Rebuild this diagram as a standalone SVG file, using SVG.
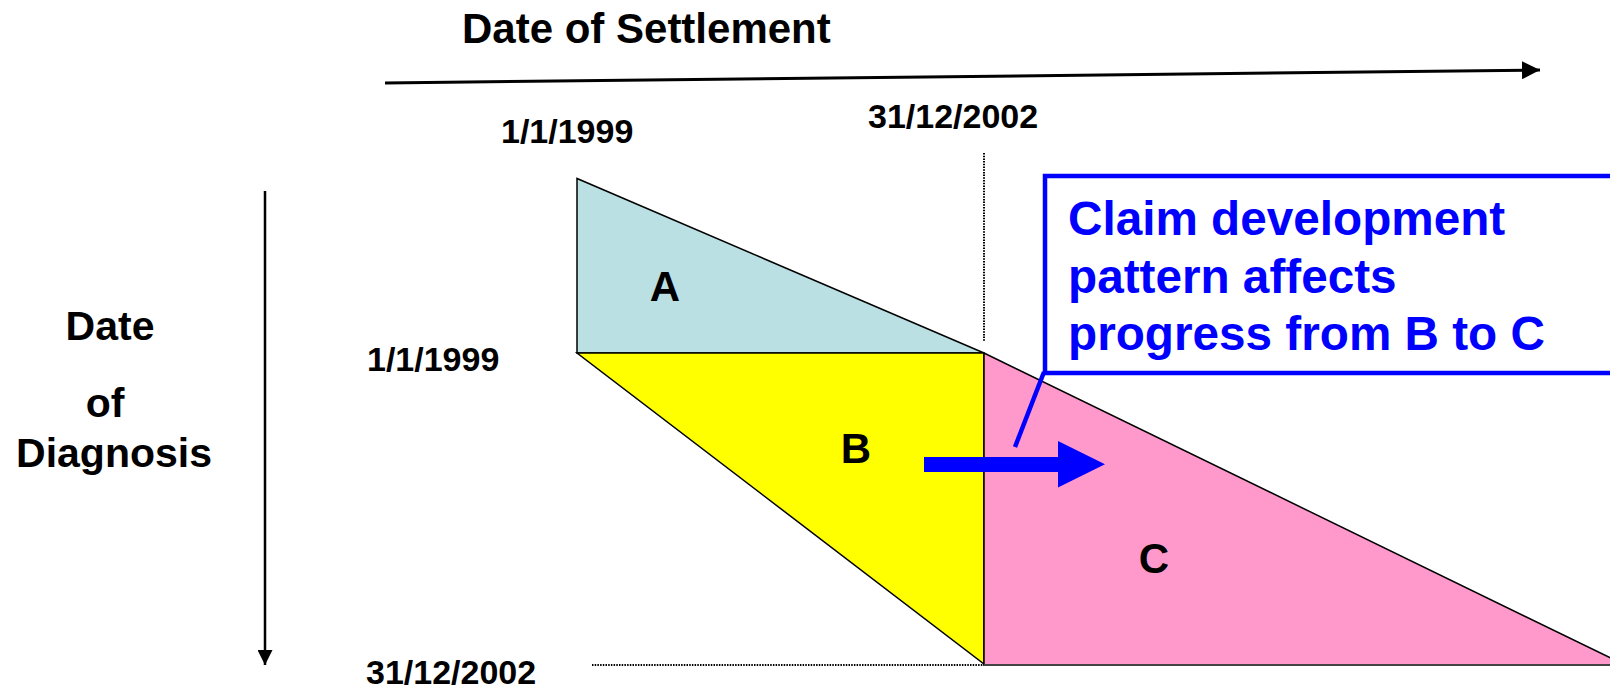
<svg xmlns="http://www.w3.org/2000/svg" width="1610" height="688" viewBox="0 0 1610 688">
  <style>
    text { font-family: "Liberation Sans", Arial, sans-serif; font-weight: bold; fill: #000; }
    .axis { font-size: 42px; }
    .date { font-size: 34px; }
    .lbl { font-size: 42px; text-anchor: middle; }
    .call { font-size: 47.7px; fill: #0000FF; }
    .tri { stroke: #000; stroke-width: 1.5; stroke-linejoin: miter; }
    .dot { stroke: #000; stroke-width: 2; stroke-dasharray: 1.5 1.2; fill: none; }
  </style>
  <defs>
    <marker id="ah" viewBox="0 0 10 10" refX="10" refY="5" markerWidth="6" markerHeight="6" orient="auto" markerUnits="strokeWidth">
      <path d="M0,0 L10,5 L0,10 z" fill="#000"/>
    </marker>
  </defs>
  <rect width="1610" height="688" fill="#fff"/>

  <g id="triangle-A">
    <polygon class="tri" points="577,178.5 577,353 984,353" fill="#BBE0E3"/>
    <text class="lbl" x="665" y="301">A</text>
  </g>
  <g id="triangle-B">
    <polygon class="tri" points="577,353 984,353 984,664" fill="#FFFF00"/>
    <text class="lbl" x="856" y="463">B</text>
  </g>
  <g id="triangle-C">
    <polygon class="tri" points="984,353 984,665 1625,665 " fill="#FF99CC"/>
    <line x1="984" y1="665" x2="1610" y2="665" stroke="#444" stroke-width="2.2"/>
    <text class="lbl" x="1154" y="573">C</text>
  </g>

  <g id="connectors">
    <line x1="385" y1="83" x2="1540" y2="70" stroke="#000" stroke-width="3" marker-end="url(#ah)"/>
    <line x1="265" y1="191" x2="265" y2="665" stroke="#000" stroke-width="2.5" marker-end="url(#ah)"/>
    <line class="dot" x1="984" y1="153" x2="984" y2="342"/>
    <line class="dot" x1="592" y1="665" x2="984" y2="665"/>
    <polygon points="924,457 1058,457 1058,441 1105,464.3 1058,487.5 1058,472 924,472" fill="#0000FF"/>
    <line x1="1044" y1="372" x2="1015" y2="447" stroke="#0000FF" stroke-width="4.5"/>
  </g>

  <g id="callout">
    <rect x="1045" y="176" width="600" height="197" fill="#fff" stroke="#0000FF" stroke-width="4.5"/>
    <text class="call" x="1068" y="235">Claim development</text>
    <text class="call" x="1068" y="293">pattern affects</text>
    <text class="call" x="1068" y="350">progress from B to C</text>
  </g>

  <g id="axis-settlement">
    <text class="axis" x="462" y="43">Date of Settlement</text>
    <text class="date" x="501" y="143">1/1/1999</text>
    <text class="date" x="868" y="128">31/12/2002</text>
  </g>
  <g id="axis-diagnosis">
    <text class="axis" x="110" y="340" text-anchor="middle" style="font-size:41px">Date</text>
    <text class="axis" x="105" y="417" text-anchor="middle" style="font-size:41px">of</text>
    <text class="axis" x="114" y="467" text-anchor="middle" style="font-size:41px">Diagnosis</text>
    <text class="date" x="367" y="371">1/1/1999</text>
    <text class="date" x="366" y="684">31/12/2002</text>
  </g>
</svg>
